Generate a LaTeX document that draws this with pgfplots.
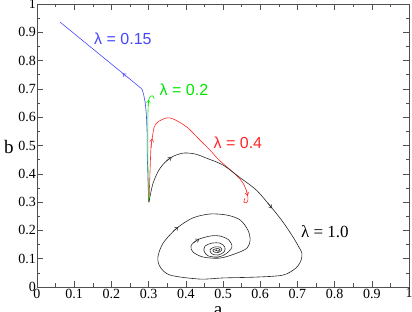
\documentclass[border=0pt]{standalone}
\usepackage{fontspec}
\setmainfont{Liberation Serif}
\newfontfamily\lamfont{Liberation Sans}
\usepackage{pgfplots}
\pgfplotsset{compat=1.18}
\usetikzlibrary{arrows.meta}
\definecolor{trajBlue}{RGB}{70, 70, 255}
\definecolor{trajGreen}{RGB}{0, 230, 0}
\definecolor{trajRed}{RGB}{255, 40, 40}
\definecolor{trajBlack}{RGB}{40, 40, 40}
\definecolor{frameGray}{RGB}{80, 80, 80}
\begin{document}
\begin{tikzpicture}
\begin{axis}[
    width=372pt, height=283pt, scale only axis,
    xmin=0, xmax=1, ymin=0, ymax=1,
    xtick={0,0.1,...,1}, ytick={0,0.1,...,1},
    xticklabels={0,0.1,0.2,0.3,0.4,0.5,0.6,0.7,0.8,0.9,1},
    yticklabels={0,0.1,0.2,0.3,0.4,0.5,0.6,0.7,0.8,0.9,1},
    minor x tick num=1, minor y tick num=1,
    tick align=inside, major tick length=6pt, minor tick length=3.5pt,
    axis line style={frameGray, line width=0.6pt},
    every tick/.style={frameGray, line width=0.5pt},
    tick label style={font=\fontsize{14pt}{15pt}\selectfont},
    xticklabel style={inner sep=1pt, yshift=-0.5pt},
    yticklabel style={inner sep=1pt},
    clip=false,
]
% lambda = 0.15
\addplot[trajBlue, line width=0.6pt] coordinates {
  (0.300,0.300) (0.298,0.400) (0.296,0.480) (0.296,0.544) (0.294,0.610)
  (0.291,0.650) (0.287,0.678) (0.283,0.697) (0.280,0.702) (0.062,0.936)
};
% lambda = 0.2
\addplot[trajGreen, line width=0.6pt, smooth, tension=0.4] coordinates {
  (0.300,0.300) (0.298,0.450) (0.298,0.600) (0.299,0.640) (0.301,0.664)
  (0.306,0.675) (0.312,0.675) (0.315,0.664)
};
% lambda = 0.4
\addplot[trajRed, line width=0.6pt, smooth, tension=0.5] coordinates {
  (0.301,0.300) (0.306,0.484) (0.309,0.519) (0.315,0.565) (0.325,0.583)
  (0.347,0.597) (0.366,0.594) (0.403,0.565) (0.438,0.519) (0.465,0.484)
  (0.489,0.449) (0.535,0.396) (0.554,0.367) (0.565,0.332) (0.567,0.307)
  (0.562,0.297) (0.556,0.300) (0.559,0.314)
};
% lambda = 1.0
\addplot[trajBlack, line width=0.6pt, smooth, tension=0.5] coordinates {
  (0.301,0.300) (0.312,0.367) (0.331,0.420) (0.358,0.456) (0.392,0.473)
  (0.425,0.470) (0.454,0.456) (0.500,0.431) (0.543,0.389) (0.589,0.343)
  (0.629,0.283) (0.661,0.230) (0.688,0.177) (0.704,0.141) (0.712,0.120)
  (0.710,0.095) (0.696,0.067) (0.661,0.042) (0.589,0.035) (0.500,0.032)
  (0.438,0.028) (0.358,0.042) (0.331,0.071) (0.325,0.106) (0.339,0.155)
  (0.376,0.208) (0.419,0.244) (0.465,0.258) (0.511,0.254) (0.546,0.237)
  (0.567,0.201) (0.573,0.166) (0.565,0.138) (0.538,0.120) (0.492,0.102)
  (0.446,0.106) (0.419,0.124) (0.414,0.145) (0.430,0.166) (0.465,0.180)
  (0.492,0.180) (0.516,0.166) (0.524,0.141) (0.508,0.117) (0.487,0.106)
  (0.460,0.110) (0.449,0.127) (0.452,0.145) (0.470,0.155) (0.492,0.155)
  (0.505,0.141) (0.503,0.124) (0.487,0.113) (0.470,0.117) (0.465,0.131)
  (0.476,0.141) (0.492,0.141) (0.497,0.131) (0.487,0.122) (0.476,0.124)
  (0.473,0.131) (0.484,0.136) (0.492,0.133) (0.487,0.127) (0.481,0.129)
  (0.484,0.131)
};
% direction arrows
\addplot[trajBlue, line width=0.5pt, -{Straight Barb[length=3pt,width=4pt]}] coordinates {(0.240,0.744) (0.230,0.755)};
\addplot[trajGreen, line width=0.5pt, -{Straight Barb[length=3pt,width=4pt]}] coordinates {(0.2985,0.640) (0.3005,0.662)};
\addplot[trajRed, line width=0.5pt, -{Straight Barb[length=3pt,width=4pt]}] coordinates {(0.3065,0.490) (0.3095,0.525)};
\addplot[trajRed, line width=0.5pt, -{Straight Barb[length=3pt,width=4pt]}] coordinates {(0.563,0.342) (0.566,0.322)};
\addplot[trajBlack, line width=0.5pt, -{Straight Barb[length=3pt,width=4pt]}] coordinates {(0.348,0.445) (0.362,0.459)};
\addplot[trajBlack, line width=0.5pt, -{Straight Barb[length=3pt,width=4pt]}] coordinates {(0.620,0.297) (0.632,0.278)};
\addplot[trajBlack, line width=0.5pt, -{Straight Barb[length=3pt,width=4pt]}] coordinates {(0.365,0.196) (0.380,0.212)};
\addplot[trajBlack, line width=0.5pt, -{Straight Barb[length=3pt,width=4pt]}] coordinates {(0.422,0.157) (0.436,0.170)};
% labels
\node[trajBlue, font=\lamfont\fontsize{16pt}{17pt}\selectfont] at (axis cs:0.231,0.876) {λ = 0.15};
\node[trajGreen, font=\lamfont\fontsize{16pt}{17pt}\selectfont] at (axis cs:0.395,0.696) {λ = 0.2};
\node[trajRed, font=\lamfont\fontsize{16pt}{17pt}\selectfont] at (axis cs:0.540,0.509) {λ = 0.4};
\node[black, font=\fontsize{17pt}{18pt}\selectfont] at (axis cs:0.774,0.194) {λ = 1.0};
\node[font=\fontsize{19pt}{20pt}\selectfont] at (axis cs:0,0.495) [xshift=-28pt] {b};
\node[font=\fontsize{19pt}{20pt}\selectfont, anchor=base] at (axis cs:0.487,0) [yshift=-29pt] {a};
\end{axis}
\pgfresetboundingbox
\path[use as bounding box] ([shift={(-37pt,-25pt)}]current axis.south west) rectangle ([shift={(3pt,4pt)}]current axis.north east);
\end{tikzpicture}
\end{document}
